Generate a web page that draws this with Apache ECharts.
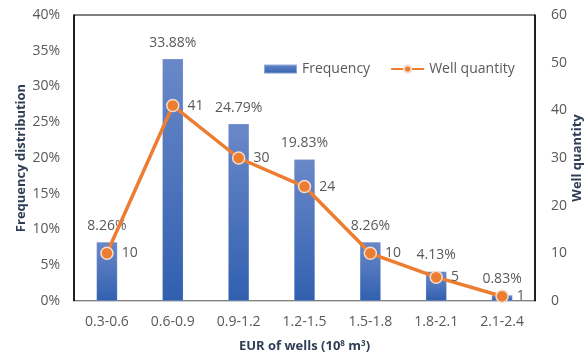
<!DOCTYPE html>
<html>
<head>
<meta charset="utf-8">
<script src="https://cdn.jsdelivr.net/npm/echarts@6/dist/echarts.min.js"></script>
<style>
  html, body { margin: 0; padding: 0; background: #fff; }
  #chart { width: 588px; height: 354px; }
</style>
</head>
<body>
<div id="chart"></div>
<script>
// EUR ranges (10^8 m^3)
const categories = ['0.3-0.6', '0.6-0.9', '0.9-1.2', '1.2-1.5', '1.5-1.8', '1.8-2.1', '2.1-2.4'];
// Share of wells in each range (%)
const frequency = [8.26, 33.88, 24.79, 19.83, 8.26, 4.13, 0.83];
// Number of wells in each range
const wellQuantity = [10, 41, 30, 24, 10, 5, 1];
const leftTicks = [0, 5, 10, 15, 20, 25, 30, 35, 40];
const rightTicks = [0, 10, 20, 30, 40, 50, 60];

const FONT = '"Open Sans", "Noto Sans", sans-serif';
const TEXT = '#595959';
const TITLE = '#2F3E55';

const chart = echarts.init(document.getElementById('chart'), null, { renderer: 'canvas' });

chart.setOption({
  animation: false,
  backgroundColor: '#fff',
  textStyle: { fontFamily: FONT },
  grid: {
    left: 74, right: 53, top: 15, bottom: 53,
    outerBoundsMode: 'none',
    containLabel: false,
    show: true, borderColor: '#000', borderWidth: 1, backgroundColor: 'transparent'
  },
  legend: {
    left: 258, top: 57,
    itemGap: 20,
    itemWidth: 33, itemHeight: 9,
    textStyle: { color: TEXT, fontSize: 14, fontFamily: FONT },
    data: [
      { name: 'Frequency', icon: 'rect' },
      { name: 'Well quantity' }
    ]
  },
  xAxis: {
    type: 'category',
    data: categories,
    name: 'EUR of wells (10{sup|8} m{sup|3})',
    nameLocation: 'middle',
    nameGap: 39,
    nameMoveOverlap: false,
    nameTextStyle: {
      color: TITLE, fontSize: 13, fontWeight: 'bold', fontFamily: FONT,
      rich: { sup: { fontSize: 8, verticalAlign: 'top', lineHeight: 10, color: TITLE, fontWeight: 'bold', padding: [0, 0, 6, 0] } }
    },
    axisLine: { show: true, lineStyle: { color: '#D0D0D0', width: 1 } },
    axisTick: { show: false },
    axisLabel: { color: TEXT, fontSize: 14, margin: 14, fontFamily: FONT },
    splitLine: { show: false }
  },
  yAxis: [
    {
      type: 'value',
      min: leftTicks[0], max: leftTicks[leftTicks.length - 1], interval: 5,
      name: 'Frequency distribution',
      nameLocation: 'middle',
      nameGap: 46,
      nameMoveOverlap: false,
      nameTextStyle: { color: TITLE, fontSize: 13, fontWeight: 'bold', fontFamily: FONT },
      axisLine: { show: true, lineStyle: { color: '#000', width: 1.5 } },
      axisTick: { show: false },
      axisLabel: { color: TEXT, fontSize: 14, margin: 14, formatter: v => v + '%', fontFamily: FONT },
      splitLine: { show: false }
    },
    {
      type: 'value',
      min: rightTicks[0], max: rightTicks[rightTicks.length - 1], interval: 10,
      name: 'Well quantity',
      nameLocation: 'middle',
      nameGap: 36,
      nameRotate: 90,
      nameMoveOverlap: false,
      nameTextStyle: { color: TITLE, fontSize: 13, fontWeight: 'bold', fontFamily: FONT },
      axisLine: { show: true, lineStyle: { color: '#000', width: 1.5 } },
      axisTick: { show: false },
      axisLabel: { color: TEXT, fontSize: 14, margin: 16, fontFamily: FONT },
      splitLine: { show: false }
    }
  ],
  series: [
    {
      name: 'Frequency',
      type: 'bar',
      yAxisIndex: 0,
      data: frequency,
      barWidth: 21,
      itemStyle: {
        color: new echarts.graphic.LinearGradient(0, 0, 0, 1, [
          { offset: 0, color: '#6A88C8' },
          { offset: 1, color: '#3160B0' }
        ]),
        borderColor: 'rgba(255,255,255,0.35)',
        borderWidth: 0.5
      },
      label: {
        show: true, position: 'top', distance: 9,
        color: TEXT, fontSize: 14, fontFamily: FONT,
        formatter: p => p.value.toFixed(2) + '%'
      }
    },
    {
      name: 'Well quantity',
      type: 'line',
      yAxisIndex: 1,
      data: wellQuantity,
      color: '#ED7D31',
      lineStyle: { color: '#ED7D31', width: 3.5 },
      symbol: 'circle',
      symbolSize: 12,
      itemStyle: { color: '#ED7D31', borderColor: '#F7DCCB', borderWidth: 1.5 },
      label: {
        show: true, position: 'right', distance: 8,
        color: TEXT, fontSize: 14, fontFamily: FONT
      },
      z: 5
    }
  ]
});
</script>
</body>
</html>
